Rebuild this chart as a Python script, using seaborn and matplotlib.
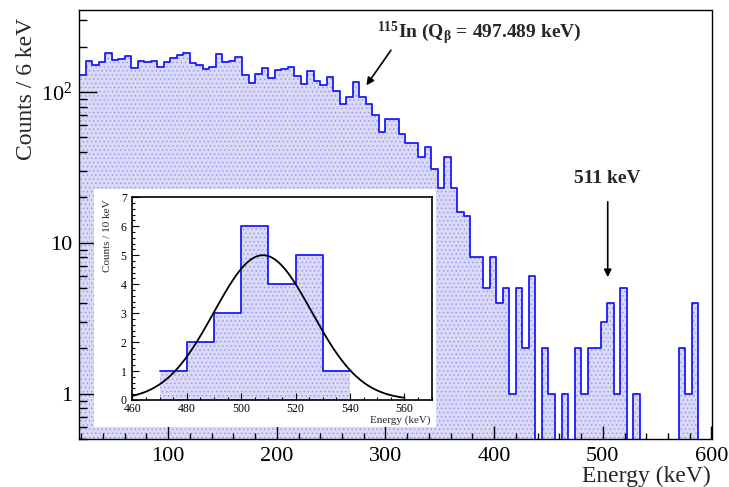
"""In-115 beta spectrum with the 511 keV region shown as an inset
"""

import numpy as np
import pandas as pd
import matplotlib
matplotlib.use("Agg")
import matplotlib.pyplot as plt
import seaborn as sns
from matplotlib.patches import Rectangle
from matplotlib.ticker import (FixedLocator, FixedFormatter, LogLocator,
                               MultipleLocator, NullFormatter)

# main spectrum: counts in 6 keV bins, first bin starts at 18 keV
e_min, e_max, e_step = 18, 600, 6
counts = [
    130, 161, 152, 157, 182, 162, 165, 174, 144, 161,
    158, 161, 147, 157, 168, 176, 182, 156, 150, 143,
    147, 179, 159, 161, 170, 130, 115, 132, 145, 124,
    140, 143, 147, 128, 113, 138, 119, 111, 125, 102,
    83, 93, 116, 93, 83, 70, 54, 66, 66, 53,
    46, 46, 37, 43, 31, 23, 37, 23, 16, 15,
    8, 8, 5, 8, 4, 5, 1, 5, 2, 6,
    0, 2, 1, 0, 1, 0, 2, 1, 2, 2,
    3, 4, 1, 5, 0, 1, 0, 0, 0, 0,
    0, 0, 2, 1, 4, 0, 0,
]

# inset: 511 keV region in 10 keV bins
peak_edges = [470, 480, 490, 500, 510, 520, 530, 540]
peak_counts = [1, 2, 3, 6, 4, 5, 1]
# gaussian fit on the inset
fit_amp, fit_mean, fit_sigma = 5.0, 508.0, 18.0
fit_lo, fit_hi = 460, 560

sns.set_style("ticks")
plt.rcParams["font.family"] = ["Liberation Serif", "DejaVu Serif"]
plt.rcParams["mathtext.fontset"] = "custom"
plt.rcParams["mathtext.rm"] = "Liberation Serif"
plt.rcParams["mathtext.it"] = "Liberation Serif:italic"
plt.rcParams["mathtext.bf"] = "Liberation Serif:bold"
plt.rcParams["hatch.linewidth"] = 0.5
plt.rcParams["xtick.direction"] = "in"
plt.rcParams["ytick.direction"] = "in"

fill_col = "#dadaf8"
dot_col = "#9393f0"
line_col = "#1a1aff"

W, H = 729, 487

edges = [e_min + e_step * i for i in range(len(counts) + 1)]
df = pd.DataFrame({"energy": np.array(edges[:-1]) + e_step / 2, "counts": counts})

fig = plt.figure(figsize=(W / 100, H / 100), dpi=100)
ax = fig.add_axes([79 / W, 1 - 439 / H, 632.5 / W, 429 / H])

sns.histplot(data=df, x="energy", weights="counts", bins=edges, element="step",
             fill=True, color=fill_col, alpha=1, linewidth=0, ax=ax)
for coll in ax.collections:
    coll.set_hatch("....")
    coll.set_edgecolor(dot_col)
    coll.set_linewidth(0)
sns.histplot(data=df, x="energy", weights="counts", bins=edges, element="step",
             fill=False, color=line_col, linewidth=1.3, ax=ax)

ax.set_yscale("log")
ax.set_xlim(e_min, e_max)
ax.set_ylim(0.5, 350)
ax.set_xlabel("")
ax.set_ylabel("")
ax.set_axisbelow(False)

ax.xaxis.set_major_locator(MultipleLocator(100))
ax.xaxis.set_minor_locator(MultipleLocator(20))
ax.yaxis.set_major_locator(FixedLocator([1, 10, 100]))
ax.yaxis.set_major_formatter(FixedFormatter(["1", "10", "$10^{2}$"]))
ax.yaxis.set_minor_locator(LogLocator(subs=range(2, 10)))
ax.yaxis.set_minor_formatter(NullFormatter())
ax.tick_params(which="both", direction="in", colors="black", labelsize=16,
               top=False, right=False)
ax.tick_params(axis="x", which="major", length=9.5, width=1, pad=6)
ax.tick_params(axis="x", which="minor", length=4.5, width=1)
ax.tick_params(axis="y", which="major", length=13, width=1, pad=5)
ax.tick_params(axis="y", which="minor", length=6, width=1)
for sp in ax.spines.values():
    sp.set_visible(True)
    sp.set_color("black")
    sp.set_linewidth(1)

fig.text(711 / W, 1 - 476.5 / H, "Energy (keV)", ha="right", va="center", fontsize=17)
fig.text(27 / W, 1 - 18 / H, "Counts / 6 keV", ha="center", va="top",
         rotation=90, fontsize=17)

# annotations
ax.annotate("", xy=(281, 107), xytext=(306.5, 196),
            arrowprops=dict(arrowstyle="-|>", color="black", lw=1.2, mutation_scale=11))
ax.text(292, 243, r"$\mathbf{^{115}In\ (Q_{\beta}\,=\,497.489\ keV)}$",
        ha="left", va="center", fontsize=14)
ax.annotate("", xy=(504.5, 5.67), xytext=(504.5, 19.5),
            arrowprops=dict(arrowstyle="-|>", color="black", lw=1.2, mutation_scale=11))
ax.text(504.4, 26.8, "511 keV", ha="center", va="center", fontsize=14,
        fontweight="bold")

# inset with white pad behind it
pad = Rectangle((94 / W, 1 - 427 / H), 342 / W, 238 / H, transform=fig.transFigure,
                facecolor="white", edgecolor="none", zorder=1)
fig.add_artist(pad)
axin = fig.add_axes([132.3 / W, 1 - 400 / H, 299.4 / W, 202.7 / H], zorder=2)

pk = pd.DataFrame({"energy": np.array(peak_edges[:-1]) + 5, "counts": peak_counts})
sns.histplot(data=pk, x="energy", weights="counts", bins=peak_edges, element="step",
             fill=True, color=fill_col, alpha=1, linewidth=0, ax=axin)
for coll in axin.collections:
    coll.set_hatch("....")
    coll.set_edgecolor(dot_col)
    coll.set_linewidth(0)
sns.histplot(data=pk, x="energy", weights="counts", bins=peak_edges, element="step",
             fill=False, color=line_col, linewidth=1.3, ax=axin)

fit_x = np.linspace(fit_lo, fit_hi, 300)
fit_y = fit_amp * np.exp(-0.5 * ((fit_x - fit_mean) / fit_sigma) ** 2)
sns.lineplot(x=fit_x, y=fit_y, color="black", linewidth=1.3, ax=axin)

axin.set_xlim(460, 570)
axin.set_ylim(0, 7)
axin.set_xlabel("")
axin.set_ylabel("")
axin.set_axisbelow(False)
axin.xaxis.set_major_locator(MultipleLocator(20))
axin.xaxis.set_minor_locator(MultipleLocator(5))
axin.yaxis.set_major_locator(MultipleLocator(1))
axin.yaxis.set_minor_locator(MultipleLocator(0.2))
axin.tick_params(which="both", direction="in", colors="black", labelsize=8.5,
                 top=False, right=False)
axin.tick_params(which="major", length=5, width=0.8)
axin.tick_params(which="minor", length=2.5, width=0.8)
axin.tick_params(axis="x", pad=2.5)
axin.tick_params(axis="y", pad=4)
for sp in axin.spines.values():
    sp.set_visible(True)
    sp.set_color("black")
    sp.set_linewidth(1.2)

fig.text(107 / W, 1 - 199 / H, "Counts / 10 keV", ha="center", va="top",
         rotation=90, fontsize=8)
fig.text(430.7 / W, 1 - 420.5 / H, "Energy (keV)", ha="right", va="center", fontsize=8)

fig.savefig("out.png", dpi=100)
